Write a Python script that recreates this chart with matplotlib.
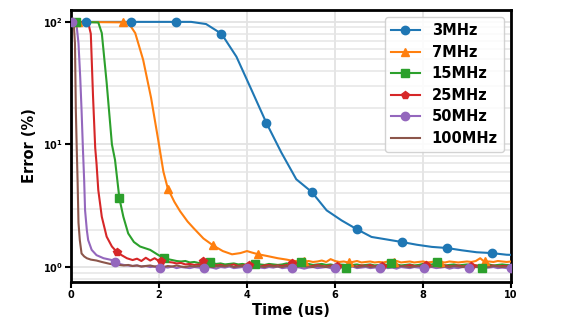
import numpy as np
import matplotlib
matplotlib.use("Agg")
import matplotlib.pyplot as plt
from matplotlib.ticker import LogLocator, NullFormatter
from matplotlib.legend_handler import HandlerTuple

labels = ["3MHz", "7MHz", "15MHz", "25MHz", "50MHz", "100MHz"]

# ---- 3 MHz ----
x3 = [0, 0.34, 0.68, 1.02, 1.37, 1.71, 2.05, 2.39, 2.73, 3.07, 3.42, 3.76, 4.10,
      4.44, 4.78, 5.12, 5.47, 5.81, 6.15, 6.49, 6.83, 7.17, 7.52, 7.86, 8.20,
      8.54, 8.88, 9.22, 9.56, 9.90, 10.25]
y3 = [100, 100, 100, 100, 100, 100, 100, 100, 100, 96, 80, 52, 28, 15, 8.6, 5.2,
      4.1, 2.9, 2.4, 2.04, 1.76, 1.68, 1.6, 1.52, 1.46, 1.43, 1.37, 1.32, 1.30,
      1.26, 1.25]
mx3 = [0.34, 1.37, 2.39, 3.42, 4.44, 5.47, 6.49, 7.52, 8.54, 9.56]
my3 = [100, 100, 100, 80, 15, 4.1, 2.04, 1.6, 1.43, 1.30]

# ---- 7 MHz ----
x7_head = [0, 1.3, 1.46, 1.64, 1.82, 1.98, 2.1, 2.2, 2.35, 2.48, 2.65, 2.79, 3.01,
           3.23, 3.45, 3.66, 3.85, 4.0, 4.12, 4.26, 4.46, 4.7, 4.9]
y7_head = [100, 99, 81, 49, 24, 11, 6.0, 4.37, 3.4, 2.85, 2.35, 2.07, 1.71, 1.50,
           1.35, 1.27, 1.30, 1.35, 1.31, 1.27, 1.23, 1.18, 1.15]
y7_tail = [1.13, 1.12, 1.11, 1.10, 1.12, 1.10, 1.11, 1.13, 1.10, 1.16,
           1.12, 1.10, 1.11, 1.09, 1.10, 1.12, 1.09, 1.10, 1.11, 1.09,
           1.10, 1.09, 1.11, 1.10, 1.12, 1.09, 1.10, 1.11, 1.09, 1.10,
           1.11, 1.09, 1.10, 1.12, 1.10, 1.09, 1.11, 1.10, 1.09, 1.10,
           1.11, 1.10, 1.12, 1.18, 1.10, 1.11, 1.10, 1.12, 1.11, 1.10,
           1.11]
y7_tail_start = 5.0
mx7 = [0.15, 1.18, 2.2, 3.23, 4.26, 5.29, 6.32, 7.35, 8.38, 9.41]
my7 = [100, 100, 4.37, 1.50, 1.27, 1.11, 1.10, 1.10, 1.10, 1.12]

# ---- 15 MHz ----
x15_head = [0, 0.62, 0.7, 0.81, 0.93, 1.0, 1.1, 1.19, 1.3, 1.43, 1.57, 1.8, 1.99]
y15_head = [100, 99, 81, 32, 10, 7.5, 3.63, 2.57, 1.88, 1.6, 1.47, 1.38, 1.25]
y15_tail = [1.19, 1.16, 1.14, 1.12, 1.11, 1.12, 1.09, 1.10, 1.08, 1.09,
            1.07, 1.08, 1.06, 1.07, 1.05, 1.06, 1.07, 1.05, 1.06, 1.04,
            1.05, 1.06, 1.05, 1.04, 1.06, 1.05, 1.04, 1.05, 1.07, 1.05,
            1.06, 1.08, 1.05, 1.06, 1.04, 1.05, 1.06, 1.04, 1.05, 1.03,
            1.05, 1.04, 1.02, 1.04, 1.05, 1.03, 1.04, 1.05, 1.03, 1.04,
            1.05, 1.04, 1.06, 1.05, 1.03, 1.04, 1.05, 1.03, 1.04, 1.06,
            1.04, 1.05, 1.07, 1.05, 1.03, 1.04, 1.05, 1.03, 1.04, 1.05,
            1.04, 1.03, 1.02, 1.04, 1.05, 1.03, 1.04, 1.05, 1.04, 1.04]
y15_tail_start = 2.1
mx15 = [0.11, 1.1, 2.12, 3.15, 4.19, 5.22, 6.25, 7.28, 8.31, 9.34]
my15 = [100, 3.63, 1.19, 1.10, 1.06, 1.10, 0.975, 1.07, 1.09, 0.975]

# ---- 25 MHz ----
x25_head = [0, 0.39, 0.45, 0.5, 0.55, 0.58, 0.62, 0.7, 0.81, 0.93, 1.04, 1.15, 1.27]
y25_head = [100, 99, 80, 25, 9.4, 7.0, 4.25, 2.57, 1.77, 1.47, 1.33, 1.25, 1.18]
y25_tail = [1.14, 1.17, 1.12, 1.19, 1.13, 1.18, 1.12, 1.15, 1.10, 1.09,
            1.07, 1.08, 1.05, 1.06, 1.04, 1.05, 1.03, 1.04, 1.05, 1.03,
            1.04, 1.02, 1.03, 1.05, 1.02, 1.03, 1.04, 1.02, 1.03, 1.01,
            1.03, 1.04, 1.02, 1.03, 1.02, 1.04, 1.01, 1.03, 1.02, 1.03,
            1.01, 1.02, 1.04, 1.02, 1.01, 1.03, 1.02, 1.01, 1.03, 1.02,
            1.02, 1.01, 1.03, 1.02, 1.04, 1.01, 1.02, 1.03, 1.01, 1.02,
            1.03, 1.01, 1.02, 1.04, 1.02, 1.01, 1.03, 1.02, 1.01, 1.02,
            1.02, 1.03, 1.01, 1.02, 1.03, 1.01, 1.02, 1.01, 1.03, 1.02,
            1.01, 1.02, 1.03, 1.01, 1.02, 1.02, 1.01]
y25_tail_start = 1.4
mx25 = [0.03, 1.04, 2.05, 3.0, 4.05, 5.03, 6.05, 7.06, 8.07, 9.08]
my25 = [100, 1.33, 1.12, 1.12, 1.04, 1.07, 1.02, 1.02, 1.03, 1.02]

# ---- 50 MHz ----
x50_head = [0, 0.12, 0.17, 0.21, 0.24, 0.27, 0.30, 0.32, 0.36, 0.39, 0.47, 0.58, 0.74, 0.93]
y50_head = [100, 99, 67, 35, 19, 9.4, 5.0, 2.9, 2.0, 1.66, 1.38, 1.25, 1.18, 1.14]
y50_tail = [1.09, 1.06, 1.04, 1.03, 1.02, 1.03, 1.01, 1.02, 1.00, 1.01,
            0.98, 1.00, 0.99, 1.01, 0.98, 1.00, 0.99, 0.98, 1.00, 0.99,
            0.98, 1.00, 0.99, 0.97, 1.00, 0.99, 1.01, 0.98, 0.99, 1.00,
            0.99, 0.98, 1.00, 0.99, 0.98, 1.00, 0.99, 1.01, 0.98, 0.99,
            0.98, 1.00, 0.99, 0.97, 0.99, 1.00, 0.98, 0.99, 1.00, 0.98,
            0.99, 0.98, 1.00, 0.99, 1.01, 0.98, 0.99, 1.00, 0.98, 0.99,
            0.99, 1.00, 0.98, 0.99, 0.97, 1.00, 0.99, 0.98, 1.00, 0.99,
            0.98, 0.99, 1.00, 0.98, 0.99, 1.00, 0.97, 0.99, 0.98, 1.00,
            0.99, 0.98, 1.00, 0.99, 0.98, 0.99, 1.00, 0.98, 0.99, 0.98,
            0.99]
y50_tail_start = 1.0
mx50 = [0.03, 1.0, 2.03, 3.03, 4.0, 5.03, 6.01, 7.02, 8.03, 9.04, 10.0]
my50 = [100, 1.09, 0.975, 0.975, 0.99, 0.975, 0.975, 0.99, 0.99, 0.975, 0.99]

# ---- 100 MHz ----
x100_head = [0, 0.06, 0.09, 0.11, 0.13, 0.15, 0.17, 0.2, 0.24, 0.3, 0.36, 0.45, 0.58, 0.7, 0.89]
y100_head = [100, 99, 67, 19, 9.4, 5.0, 2.3, 1.66, 1.29, 1.22, 1.18, 1.15, 1.13, 1.10, 1.06]
y100_tail = [1.05, 1.04, 1.03, 1.04, 1.02, 1.03, 1.01, 1.02, 1.03, 1.01,
             1.02, 1.00, 1.02, 1.01, 1.03, 1.01, 1.00, 1.02, 1.01, 1.02,
             1.01, 1.02, 1.00, 1.01, 1.02, 1.01, 1.03, 1.00, 1.01, 1.02,
             1.00, 1.01, 1.02, 1.01, 1.00, 1.02, 1.01, 1.01, 1.00, 1.02,
             1.01, 1.00, 1.02, 1.01, 1.01, 1.00, 1.02, 1.01, 1.00, 1.01,
             1.02, 1.00, 1.01, 1.01, 1.02, 1.00, 1.01, 1.02, 1.00, 1.01,
             1.01, 1.02, 1.00, 1.01, 1.00, 1.02, 1.01, 1.00, 1.01, 1.02,
             1.00, 1.01, 1.01, 1.02, 1.00, 1.01, 1.00, 1.02, 1.01, 1.00,
             1.01, 1.02, 1.00, 1.01, 1.01, 1.00, 1.02, 1.01, 1.00, 1.01,
             1.01]
y100_tail_start = 1.0

xticks = [0, 2, 4, 6, 8, 10]
yticks = [1, 10, 100]
ytick_labels = [r"$\mathbf{10^{0}}$", r"$\mathbf{10^{1}}$", r"$\mathbf{10^{2}}$"]


def join(xh, yh, yt, start, step=0.1):
    xt = start + step * np.arange(len(yt))
    return np.concatenate([xh, xt]), np.concatenate([yh, yt])


series = [
    (np.array(x3), np.array(y3), mx3, my3, "o"),
    (*join(x7_head, y7_head, y7_tail, y7_tail_start), mx7, my7, "^"),
    (*join(x15_head, y15_head, y15_tail, y15_tail_start), mx15, my15, "s"),
    (*join(x25_head, y25_head, y25_tail, y25_tail_start), mx25, my25, "p"),
    (*join(x50_head, y50_head, y50_tail, y50_tail_start), mx50, my50, "o"),
    (*join(x100_head, y100_head, y100_tail, y100_tail_start), None, None, None),
]
colors = ["#1f77b4", "#ff7f0e", "#2ca02c", "#d62728", "#9467bd", "#8c564b"]

plt.rcParams["font.family"] = ["DejaVu Sans"]
plt.rcParams["font.weight"] = "bold"
plt.rcParams["axes.labelweight"] = "bold"

fig = plt.figure(figsize=(5.67, 3.21), dpi=100)
ax = fig.add_axes([71 / 567, 1 - 282 / 321, 440 / 567, 272 / 321])

handles = []
for (xs, ys, mx, my, mk), c, lab in zip(series, colors, labels):
    ln, = ax.plot(xs, ys, color=c, lw=1.5, zorder=3)
    if mx is not None:
        mk_art, = ax.plot(mx, my, ls="none", marker=mk, color=c, ms=6,
                          zorder=4, clip_on=True)
        handles.append((ln, mk_art))
    else:
        handles.append(ln)

ax.set_yscale("log")
ax.set_xlim(0, 10)
ax.set_ylim(0.755, 125)
ax.set_xticks(xticks)
ax.set_xticklabels([str(t) for t in xticks])
ax.set_yticks(yticks)
ax.set_yticklabels(ytick_labels)
ax.yaxis.set_minor_locator(LogLocator(base=10, subs=np.arange(2, 10), numticks=20))
ax.yaxis.set_minor_formatter(NullFormatter())

ax.grid(True, which="major", color="#e3e3e3", lw=1.3)
ax.grid(True, which="minor", axis="y", color="#e6e6e6", lw=1.1)
ax.set_axisbelow(True)

for s in ax.spines.values():
    s.set_linewidth(2)
    s.set_color("black")
ax.tick_params(axis="both", which="major", direction="out", length=4, width=1.5,
               labelsize=7, pad=2)
ax.tick_params(axis="y", which="minor", length=0)
for lbl in ax.get_xticklabels():
    lbl.set_fontweight("bold")

ax.set_xlabel("Time (us)", fontsize=10.5, fontweight="bold", labelpad=2)
ax.set_ylabel("Error (%)", fontsize=10.5, fontweight="bold", labelpad=4)

leg = ax.legend(handles, labels, loc="upper right",
                prop={"weight": "bold", "size": 10.5}, labelspacing=0.45,
                handler_map={tuple: HandlerTuple(ndivide=1)}, framealpha=0.85,
                edgecolor="#cccccc")

fig.savefig("out.png", dpi=100)
